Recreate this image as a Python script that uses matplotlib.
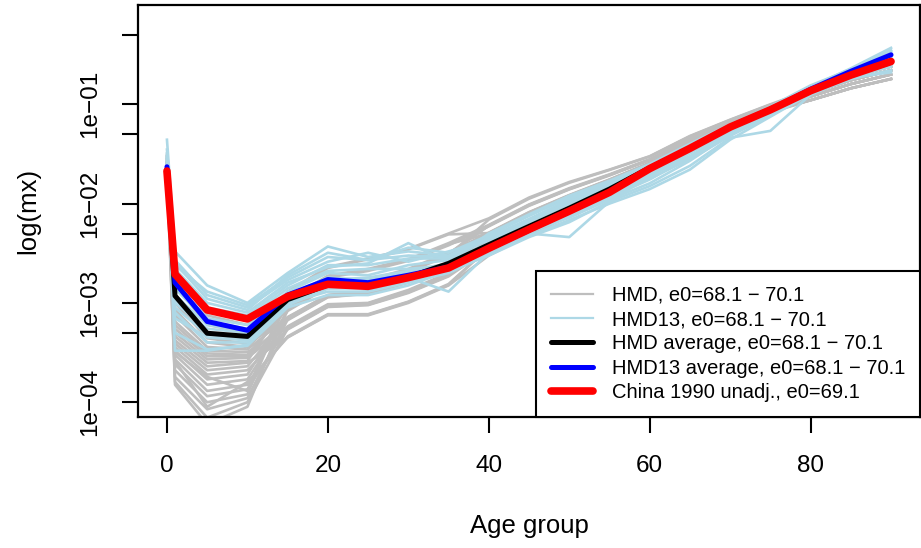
import matplotlib
matplotlib.use("Agg")
import matplotlib.pyplot as plt
from matplotlib.lines import Line2D
from matplotlib.ticker import NullLocator

plt.rcParams['font.family'] = ['Liberation Sans', 'DejaVu Sans']

# age groups (start of interval)
ages = [0, 1, 5, 10, 15, 20, 25, 30, 35, 40, 45, 50, 55, 60, 65, 70, 75, 80, 85, 90]

# China 1990 unadjusted mx
china = [0.0213, 1.95e-3, 8.5e-4, 6.9e-4, 1.16e-3, 1.54e-3, 1.47e-3, 1.8e-3, 2.25e-3, 3.55e-3,
         5.5e-3, 8.4e-3, 1.3e-2, 2.25e-2, 3.6e-2, 5.9e-2, 8.8e-2, 0.137, 0.197, 0.27]

hmd_avg = [0.022, 1.18e-3, 4.95e-4, 4.6e-4, 1.08e-3, 1.52e-3, 1.47e-3, 1.82e-3, 2.5e-3, 3.85e-3,
           5.9e-3, 9.0e-3, 1.4e-2, 2.3e-2, 3.6e-2, 5.9e-2, 8.8e-2, 0.137, 0.195, 0.265]

hmd13_avg = [0.0235, 1.6e-3, 6.5e-4, 5.3e-4, 1.2e-3, 1.72e-3, 1.6e-3, 1.9e-3, 2.3e-3, 3.5e-3,
             5.4e-3, 8.3e-3, 1.3e-2, 2.25e-2, 3.6e-2, 5.9e-2, 8.9e-2, 0.142, 0.215, 0.315]

# individual HMD life tables, e0 68.1-70.1
hmd_curves = [
    [0.031, 2.0e-3, 7.5e-4, 6.0e-4, 8.5e-4, 1.47e-3, 1.65e-3, 2.1e-3, 3.1e-3, 4.2e-3, 6.8e-3, 1.03e-2, 1.53e-2, 2.35e-2, 3.84e-2, 6.0e-2, 8.9e-2, 0.15, 0.20, 0.26],
    [0.028, 1.5e-3, 6.0e-4, 5.0e-4, 1.05e-3, 1.84e-3, 2.15e-3, 2.7e-3, 3.9e-3, 5.0e-3, 8.1e-3, 1.2e-2, 1.73e-2, 2.55e-2, 4.1e-2, 6.3e-2, 9.2e-2, 0.14, 0.19, 0.24],
    [0.026, 1.2e-3, 5.0e-4, 4.2e-4, 1.3e-3, 2.3e-3, 2.8e-3, 3.5e-3, 5.0e-3, 7.1e-3, 1.15e-2, 1.65e-2, 2.2e-2, 3.0e-2, 4.8e-2, 7.0e-2, 1.0e-1, 0.14, 0.19, 0.24],
    [0.024, 1.0e-3, 4.4e-4, 3.9e-4, 6.9e-4, 1.17e-3, 1.27e-3, 1.65e-3, 2.4e-3, 4.2e-3, 6.8e-3, 1.03e-2, 1.53e-2, 2.35e-2, 3.84e-2, 6.0e-2, 8.9e-2, 0.14, 0.19, 0.24],
    [0.022, 8.5e-4, 4.0e-4, 3.6e-4, 8.5e-4, 1.47e-3, 1.65e-3, 2.1e-3, 3.1e-3, 6.0e-3, 9.7e-3, 1.41e-2, 1.95e-2, 2.77e-2, 4.45e-2, 6.6e-2, 9.6e-2, 0.13, 0.175, 0.22],
    [0.030, 7.5e-4, 3.6e-4, 3.4e-4, 7.2e-4, 1.2e-3, 1.3e-3, 1.7e-3, 2.5e-3, 3.6e-3, 5.7e-3, 8.8e-3, 1.35e-2, 2.17e-2, 3.56e-2, 5.7e-2, 8.5e-2, 0.15, 0.20, 0.26],
    [0.020, 6.5e-4, 3.3e-4, 3.2e-4, 5.6e-4, 9.4e-4, 9.8e-4, 1.3e-3, 1.9e-3, 3.7e-3, 5.8e-3, 9.0e-3, 1.37e-2, 2.2e-2, 3.6e-2, 5.8e-2, 8.6e-2, 0.13, 0.175, 0.22],
    [0.025, 6.0e-4, 3.1e-4, 3.0e-4, 8.8e-4, 1.5e-3, 1.7e-3, 2.2e-3, 3.2e-3, 5.1e-3, 8.2e-3, 1.22e-2, 1.75e-2, 2.57e-2, 4.15e-2, 6.35e-2, 9.3e-2, 0.13, 0.175, 0.22],
    [0.019, 5.5e-4, 2.9e-4, 2.9e-4, 6.7e-4, 1.14e-3, 1.24e-3, 1.6e-3, 2.35e-3, 4.9e-3, 7.9e-3, 1.18e-2, 1.7e-2, 2.52e-2, 4.05e-2, 6.25e-2, 9.1e-2, 0.12, 0.16, 0.20],
    [0.023, 5.0e-4, 2.7e-4, 2.8e-4, 5.8e-4, 9.7e-4, 1.0e-3, 1.35e-3, 2.0e-3, 4.3e-3, 6.9e-3, 1.05e-2, 1.55e-2, 2.37e-2, 3.88e-2, 6.05e-2, 9.0e-2, 0.12, 0.16, 0.20],
    [0.021, 4.6e-4, 2.5e-4, 2.6e-4, 1.02e-3, 1.8e-3, 2.1e-3, 2.65e-3, 3.8e-3, 5.9e-3, 9.5e-3, 1.39e-2, 1.92e-2, 2.74e-2, 4.4e-2, 6.55e-2, 9.5e-2, 0.13, 0.175, 0.22],
    [0.027, 4.2e-4, 2.3e-4, 2.5e-4, 4.5e-4, 7.5e-4, 7.5e-4, 1.0e-3, 1.5e-3, 3.0e-3, 4.8e-3, 7.5e-3, 1.2e-2, 2.0e-2, 3.3e-2, 5.4e-2, 8.2e-2, 0.12, 0.16, 0.20],
    [0.020, 3.9e-4, 2.1e-4, 2.3e-4, 7.1e-4, 1.2e-3, 1.3e-3, 1.68e-3, 2.45e-3, 4.1e-3, 6.6e-3, 1.0e-2, 1.5e-2, 2.32e-2, 3.8e-2, 5.95e-2, 8.8e-2, 0.11, 0.145, 0.18],
    [0.024, 3.6e-4, 1.9e-4, 2.1e-4, 5.4e-4, 9.1e-4, 9.5e-4, 1.26e-3, 1.85e-3, 3.5e-3, 5.6e-3, 8.7e-3, 1.33e-2, 2.15e-2, 3.52e-2, 5.65e-2, 8.45e-2, 0.11, 0.145, 0.18],
    [0.018, 3.3e-4, 1.7e-4, 1.9e-4, 8.3e-4, 1.44e-3, 1.6e-3, 2.05e-3, 3.0e-3, 6.9e-3, 1.12e-2, 1.62e-2, 2.18e-2, 2.98e-2, 4.75e-2, 6.95e-2, 9.9e-2, 0.12, 0.16, 0.20],
    [0.022, 3.0e-4, 1.5e-4, 1.7e-4, 7.0e-4, 1.19e-3, 1.29e-3, 1.67e-3, 2.42e-3, 5.0e-3, 8.0e-3, 1.19e-2, 1.72e-2, 2.54e-2, 4.1e-2, 6.3e-2, 9.2e-2, 0.11, 0.145, 0.18],
    [0.029, 2.7e-4, 1.3e-4, 1.5e-4, 4.6e-4, 7.7e-4, 7.7e-4, 1.03e-3, 1.55e-3, 3.6e-3, 5.7e-3, 8.8e-3, 1.35e-2, 2.17e-2, 3.56e-2, 5.7e-2, 8.5e-2, 0.13, 0.175, 0.22],
    [0.021, 2.4e-4, 1.15e-4, 1.35e-4, 5.7e-4, 9.5e-4, 9.9e-4, 1.32e-3, 1.95e-3, 4.2e-3, 6.8e-3, 1.03e-2, 1.53e-2, 2.35e-2, 3.84e-2, 6.0e-2, 8.9e-2, 0.12, 0.16, 0.20],
    [0.026, 2.1e-4, 1.0e-4, 1.2e-4, 1.08e-3, 1.88e-3, 2.2e-3, 2.75e-3, 4.0e-3, 6.1e-3, 9.8e-3, 1.43e-2, 1.97e-2, 2.8e-2, 4.5e-2, 6.65e-2, 9.65e-2, 0.14, 0.19, 0.24],
    [0.019, 1.8e-4, 8.5e-5, 1.1e-4, 6.8e-4, 1.15e-3, 1.25e-3, 1.62e-3, 2.38e-3, 3.05e-3, 4.9e-3, 7.6e-3, 1.22e-2, 2.02e-2, 3.33e-2, 5.45e-2, 8.25e-2, 0.11, 0.145, 0.18],
    [0.023, 1.6e-4, 7.0e-5, 1.0e-4, 5.5e-4, 9.2e-4, 9.6e-4, 1.28e-3, 1.88e-3, 4.25e-3, 6.9e-3, 1.04e-2, 1.54e-2, 2.36e-2, 3.86e-2, 6.02e-2, 8.95e-2, 0.12, 0.16, 0.20],
    [0.020, 1.5e-4, 6.0e-5, 9.0e-5, 8.6e-4, 1.49e-3, 1.67e-3, 2.12e-3, 3.15e-3, 6.0e-3, 9.6e-3, 1.4e-2, 1.94e-2, 2.76e-2, 4.43e-2, 6.58e-2, 9.55e-2, 0.13, 0.175, 0.22],
    [0.025, 2.6e-4, 9.0e-5, 1.6e-4, 4.5e-4, 7.6e-4, 7.6e-4, 1.02e-3, 1.52e-3, 3.62e-3, 5.75e-3, 8.85e-3, 1.36e-2, 2.18e-2, 3.58e-2, 5.72e-2, 8.52e-2, 0.11, 0.145, 0.18],
    [0.022, 3.2e-4, 1.8e-4, 1.3e-4, 1.28e-3, 2.25e-3, 2.75e-3, 3.45e-3, 4.9e-3, 5.05e-3, 8.15e-3, 1.21e-2, 1.74e-2, 2.56e-2, 4.12e-2, 6.32e-2, 9.25e-2, 0.13, 0.175, 0.22],
]

# HMD13 life tables, e0 68.1-70.1
hmd13_curves = [
    [0.044, 3.3e-3, 1.5e-3, 1.0e-3, 2.0e-3, 3.7e-3, 2.9e-3, 3.3e-3, 3.0e-3, 4.6e-3, 7.0e-3, 1.1e-2, 1.6e-2, 2.4e-2, 3.8e-2, 6.2e-2, 9.3e-2, 1.5e-1, 2.2e-1, 3.4e-1],
    [0.035, 2.7e-3, 1.2e-3, 9.0e-4, 1.7e-3, 2.6e-3, 3.2e-3, 2.6e-3, 3.3e-3, 4.2e-3, 6.5e-3, 1.0e-2, 1.5e-2, 2.3e-2, 3.7e-2, 6.0e-2, 9.0e-2, 1.5e-1, 2.3e-1, 3.7e-1],
    [0.030, 2.2e-3, 1.0e-3, 8.0e-4, 1.6e-3, 2.3e-3, 2.5e-3, 4.0e-3, 2.6e-3, 5.0e-3, 7.8e-3, 1.2e-2, 1.7e-2, 2.5e-2, 4.0e-2, 6.3e-2, 9.5e-2, 1.55e-1, 2.25e-1, 3.3e-1],
    [0.027, 1.8e-3, 8.0e-4, 7.0e-4, 1.4e-3, 2.1e-3, 2.2e-3, 2.2e-3, 2.4e-3, 3.8e-3, 5.8e-3, 9.0e-3, 1.4e-2, 2.2e-2, 3.5e-2, 5.8e-2, 8.8e-2, 1.45e-1, 2.1e-1, 3.0e-1],
    [0.025, 1.4e-3, 6.5e-4, 5.5e-4, 1.2e-3, 1.8e-3, 1.7e-3, 2.0e-3, 2.2e-3, 3.4e-3, 5.0e-3, 4.6e-3, 1.05e-2, 1.9e-2, 3.2e-2, 5.6e-2, 8.5e-2, 1.4e-1, 2.0e-1, 2.8e-1],
    [0.022, 1.1e-3, 5.0e-4, 4.5e-4, 1.1e-3, 1.5e-3, 1.5e-3, 1.8e-3, 1.3e-3, 3.2e-3, 5.2e-3, 7.2e-3, 1.1e-2, 1.6e-2, 2.7e-2, 5.0e-2, 7.8e-2, 1.3e-1, 1.9e-1, 2.5e-1],
    [0.021, 8.0e-4, 4.0e-4, 4.0e-4, 1.0e-3, 1.3e-3, 1.3e-3, 1.6e-3, 2.0e-3, 3.1e-3, 4.8e-3, 6.8e-3, 1.0e-2, 1.4e-2, 2.2e-2, 4.4e-2, 7.5e-2, 1.28e-1, 1.8e-1, 2.2e-1],
    [0.020, 5.0e-4, 3.4e-4, 3.7e-4, 9.0e-4, 1.2e-3, 1.2e-3, 1.5e-3, 2.1e-3, 3.0e-3, 4.6e-3, 6.5e-3, 1.05e-2, 1.5e-2, 2.4e-2, 4.6e-2, 5.4e-2, 1.25e-1, 1.85e-1, 2.1e-1],
    [0.024, 3.3e-4, 3.3e-4, 3.8e-4, 9.5e-4, 1.4e-3, 1.4e-3, 1.7e-3, 2.3e-3, 3.3e-3, 5.2e-3, 7.8e-3, 1.2e-2, 2.0e-2, 3.3e-2, 5.5e-2, 8.2e-2, 1.35e-1, 2.0e-1, 2.7e-1],
    [0.032, 2.4e-3, 1.3e-3, 9.5e-4, 1.8e-3, 2.9e-3, 2.7e-3, 3.6e-3, 3.2e-3, 4.8e-3, 7.5e-3, 1.15e-2, 1.65e-2, 2.45e-2, 3.9e-2, 6.1e-2, 9.4e-2, 1.52e-1, 2.2e-1, 3.2e-1],
    [0.026, 1.6e-3, 7.0e-4, 6.0e-4, 1.3e-3, 2.0e-3, 1.9e-3, 2.4e-3, 2.7e-3, 4.0e-3, 6.0e-3, 9.2e-3, 1.45e-2, 2.3e-2, 3.6e-2, 5.9e-2, 8.9e-2, 1.45e-1, 2.15e-1, 3.1e-1],
    [0.023, 1.0e-3, 5.5e-4, 5.0e-4, 1.2e-3, 1.6e-3, 1.6e-3, 1.9e-3, 2.5e-3, 3.6e-3, 5.5e-3, 8.5e-3, 1.3e-2, 2.1e-2, 3.4e-2, 5.7e-2, 8.6e-2, 1.4e-1, 2.05e-1, 2.9e-1],
    [0.028, 2.0e-3, 9.0e-4, 7.5e-4, 1.5e-3, 2.4e-3, 2.4e-3, 2.8e-3, 2.8e-3, 4.4e-3, 6.8e-3, 1.05e-2, 1.55e-2, 2.3e-2, 3.7e-2, 6.0e-2, 9.1e-2, 1.48e-1, 2.2e-1, 3.2e-1],
    [0.024, 1.2e-3, 6.0e-4, 5.2e-4, 1.15e-3, 1.7e-3, 1.8e-3, 2.1e-3, 2.5e-3, 3.7e-3, 5.6e-3, 8.6e-3, 1.25e-2, 1.9e-2, 3.0e-2, 5.3e-2, 8.3e-2, 1.38e-1, 2.05e-1, 2.8e-1],
    [0.021, 7.0e-4, 4.5e-4, 4.2e-4, 1.0e-3, 1.4e-3, 1.45e-3, 1.75e-3, 2.2e-3, 3.3e-3, 5.1e-3, 7.6e-3, 1.15e-2, 1.75e-2, 2.9e-2, 5.2e-2, 8.0e-2, 1.32e-1, 1.95e-1, 2.6e-1],
    [0.029, 2.5e-3, 1.1e-3, 8.5e-4, 1.9e-3, 3.2e-3, 2.7e-3, 3.0e-3, 2.9e-3, 4.4e-3, 6.6e-3, 1.0e-2, 1.5e-2, 2.35e-2, 3.8e-2, 6.0e-2, 9.2e-2, 1.5e-1, 2.25e-1, 3.5e-1],
    [0.023, 9.0e-4, 4.8e-4, 4.4e-4, 1.05e-3, 1.5e-3, 1.5e-3, 2.0e-3, 2.4e-3, 3.5e-3, 5.3e-3, 8.0e-3, 1.2e-2, 1.8e-2, 2.8e-2, 4.8e-2, 7.7e-2, 1.3e-1, 1.9e-1, 2.4e-1],
]

ytick_vals = [1e-4, 5e-4, 1e-3, 5e-3, 1e-2, 5e-2, 1e-1, 5e-1]
ytick_labels = ['1e\u221204', '', '1e\u221203', '', '1e\u221202', '', '1e\u221201', '']
xtick_vals = [0, 20, 40, 60, 80]

legend_labels = ['HMD, e0=68.1 \u2212 70.1',
                 'HMD13, e0=68.1 \u2212 70.1',
                 'HMD average, e0=68.1 \u2212 70.1',
                 'HMD13 average, e0=68.1 \u2212 70.1',
                 'China 1990 unadj., e0=69.1']

fig = plt.figure(figsize=(9.21, 5.48), dpi=100)
ax = fig.add_axes([138 / 921, 131 / 548, 782 / 921, 412 / 548])

for c in hmd_curves:
    ax.plot(ages, c, color='#BEBEBE', lw=1.9)
for c in hmd13_curves:
    ax.plot(ages, c, color='#ADD8E6', lw=1.9)
ax.plot(ages, hmd_avg, color='black', lw=3.6, solid_capstyle='round')
ax.plot(ages, hmd13_avg, color='blue', lw=3.6, solid_capstyle='round')
ax.plot(ages, china, color='red', lw=5.5, solid_capstyle='round')

ax.set_yscale('log')
ax.set_xlim(-3.6, 93.6)
ax.set_ylim(7.1e-5, 1.0)
ax.yaxis.set_minor_locator(NullLocator())
ax.set_yticks(ytick_vals, labels=ytick_labels)
ax.set_xticks(xtick_vals)
for lab in ax.get_yticklabels():
    lab.set_rotation(90)
    lab.set_va('center')

ax.tick_params(axis='both', length=11.5, width=1.5, labelsize=17.5, color='black')
ax.tick_params(axis='x', pad=16)
ax.tick_params(axis='y', pad=15)
for s in ax.spines.values():
    s.set_linewidth(1.6)

ax.set_xlabel('Age group', fontsize=18.5)
ax.set_ylabel('log(mx)', fontsize=18.5)
ax.xaxis.label.set_va('center')
ax.yaxis.label.set_va('center')
ax.xaxis.set_label_coords(0.5, -109 / 412)
ax.yaxis.set_label_coords(-110 / 782, 0.5)

handles = [Line2D([], [], color='#BEBEBE', lw=1.6),
           Line2D([], [], color='#ADD8E6', lw=1.6),
           Line2D([], [], color='black', lw=3.6, solid_capstyle='round'),
           Line2D([], [], color='blue', lw=3.6, solid_capstyle='round'),
           Line2D([], [], color='red', lw=5.5, solid_capstyle='round')]
leg = ax.legend(handles, legend_labels, loc='lower right', bbox_to_anchor=(1, 0),
                borderaxespad=0, fontsize=14.5, handlelength=2.1, handletextpad=0.9,
                labelspacing=0.26, borderpad=0.75, fancybox=False, framealpha=1)
leg.get_frame().set_edgecolor('black')
leg.get_frame().set_linewidth(1.5)

fig.savefig('out.png', dpi=100)
